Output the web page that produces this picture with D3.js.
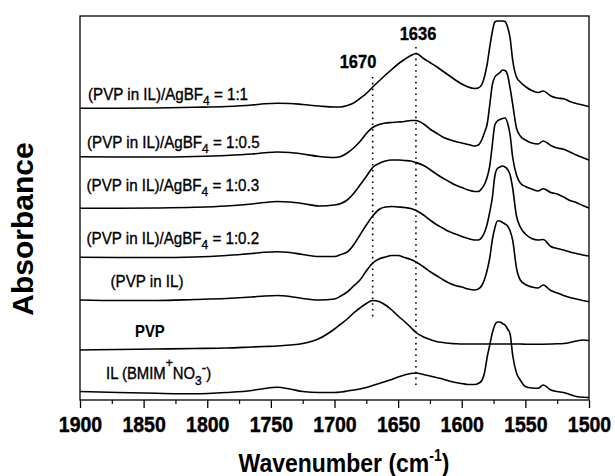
<!DOCTYPE html>
<html><head><meta charset="utf-8">
<script src="https://cdn.jsdelivr.net/npm/d3@7/dist/d3.min.js"></script>
<style>
body{margin:0;background:#fff}
svg{display:block}
text{font-family:Arial,"Liberation Sans",Helvetica,sans-serif;fill:#000}
</style>
</head><body>
<svg id="chart" width="615" height="476"></svg>
<script>
// ---- data (wavenumber in cm-1, absorbance in offset arbitrary units) ----
const wavenumbers = [1900,1870,1840,1810,1785,1765,1755,1745,1735,1725,1712,1700,1695,1690,1685,1680,1675,1670,1665,1660,1655,1650,1645,1640,1636,1630,1625,1620,1615,1610,1605,1600,1595,1590,1587,1584,1582,1580,1578,1576,1574,1572,1570,1568,1566,1564,1562,1560,1557,1554,1550,1545,1540,1536,1530,1525,1520,1515,1510,1505,1500];

const ratio1to1 = [291.7,291.7,292,292.7,293.5, 295,296.2,296.7,296.5,295.5, 294,293,293,294.5,297, 301.5,306.5,313,319,325, 330.5,336,340.5,344.5,346.5, 341.5,337.5,333.5,329,324.5, 320,316,313,311.5,312, 316,324,336,353,368, 378,379,379,379,378.5, 373,362,340,323,318, 313.5,309.5,307.5,309,304, 302,301.3,298.5,296.5,295, 293.5];

const ratio1to05 = [243.3,243,243,243.5,244.5, 246,247.2,248,247.5,246, 243.5,242.5,243.5,247,252, 258.5,266.5,272.5,275.5,277, 277.5,278,278.5,279.5,279.5, 276,271,267,263,260.5, 258.5,257,255.5,254,255, 261,268,276,295,315, 323,325.5,327.5,330,329.5, 325,312,296,272,264, 260,257,256,259,254.5, 252,250.7,248,245,242.5, 240];

const ratio1to03 = [191.7,191.7,192,192.7,194, 196,197.5,198.5,198,196.5, 194,195,196.5,200,206.5, 215,223.5,232.5,236.5,239, 240,240,239.5,239,237.5, 234.5,230.5,226,222,218.5, 215,212.5,210,208.5,208.5, 212,216,223,234,255, 275,279,280.5,281.5,282, 277,265,243,225,217, 213.5,211,209,211.3,207.5, 206,203,199.5,197.5,194.5, 192];

const ratio1to02 = [142.7,142.5,142.5,143,144.5, 146.5,147.7,148.3,147.5,145.5, 143.5,143.5,145.5,148,155, 165,175,184,190.5,193, 193.5,193,192.5,191.5,189.5, 185,180,175.5,172,168.5, 166,163.5,161.5,160,160, 163,168,176,188,202, 224,231.5,233,234,233, 230.5,225,212,184,173, 166,161.5,160,160.5,153.5, 151.5,150,148,146.5,145, 144];

const pvpInIL = [100,99.5,99.5,100.5,101.5, 103,104,104.5,103.5,101.5, 100,101,104,108,114, 120,129,137,141,143, 144.5,144.5,142.5,140.5,138, 133,128.5,124.5,120.5,117, 114.5,113,111,110,111, 115,121,130,142,160, 172,179,179,177.5,176, 174,169,160,132,120, 115.5,113,112,115,109.5, 107,104.5,102.5,101,99.5, 98.3];

const pvp = [50,50.5,51,51.5,52, 53,53.5,54,55,56.5, 61.5,71,76,81,87, 92,96.5,99.5,98.5,95, 90,84,78.5,72.5,67.5, 63,60.5,58.5,57.5,56.7, 56.3,56,56,56,56, 56,56,56,56,56, 56,56,56,56,56, 56,56,56,56,56, 55.8,55.7,55.7,55.8,56, 56.2,56.5,57.5,59,60, 59.5];

const ionicLiquid = [8.5,7.5,6.7,6.2,7.5, 9.5,11.5,12.7,11,8.5, 7.5,7.5,8,9,10, 11,12.5,14.5,16.5,18.5, 20.5,23,25,26.5,27, 25.5,24,22.5,21,19, 17.5,16.5,15.5,15.5,16.5, 20,28,43,55,67, 75,78,78,76.5,75, 71,66,45,27,20, 13.5,12,11.7,15,10, 8.5,7.5,5.5,3.5,2.7, 2.5];

const seriesValues = [ratio1to1, ratio1to05, ratio1to03, ratio1to02, pvpInIL, pvp, ionicLiquid];
const seriesNames = ["(PVP in IL)/AgBF4 = 1:1","(PVP in IL)/AgBF4 = 1:0.5","(PVP in IL)/AgBF4 = 1:0.3","(PVP in IL)/AgBF4 = 1:0.2","(PVP in IL)","PVP","IL (BMIM+NO3-)"];

const xTicks = [1900,1850,1800,1750,1700,1650,1600,1550,1500];
const xMinorTicks = [1875,1825,1775,1725,1675,1625,1575,1525];

const peakMarkers = [1670, 1636];
const peakMarkerTop = [323, 353];
const peakMarkerBottom = [80, 12];

// ---- layout ----
const m = {left:80, right:589, top:16, bottom:400};
const svg = d3.select("#chart");
const x = d3.scaleLinear().domain([1900,1500]).range([m.left, m.right]);
const y = d3.scaleLinear().domain([0,384]).range([m.bottom, m.top]);

svg.append("defs").append("clipPath").attr("id","clip")
  .append("rect").attr("x",m.left).attr("y",m.top).attr("width",m.right-m.left).attr("height",m.bottom-m.top);

// dotted peak markers
svg.append("g").selectAll("line").data(peakMarkers).join("line")
  .attr("x1",d=>x(d)).attr("x2",d=>x(d))
  .attr("y1",(d,i)=>y(peakMarkerTop[i])).attr("y2",(d,i)=>y(peakMarkerBottom[i]))
  .attr("stroke","#000").attr("stroke-width",1.6).attr("stroke-dasharray","1.6,4.2");

// spectra
const line = d3.line()
  .x((d,i)=>x(wavenumbers[i]))
  .y(d=>y(d))
  .curve(d3.curveMonotoneX);
svg.append("g").attr("clip-path","url(#clip)").selectAll("path").data(seriesValues).join("path")
  .attr("d",line).attr("fill","none").attr("stroke","#000").attr("stroke-width",1.6)
  .attr("stroke-linejoin","round");

// frame
svg.append("rect").attr("x",m.left).attr("y",m.top).attr("width",m.right-m.left).attr("height",m.bottom-m.top)
  .attr("fill","none").attr("stroke","#000").attr("stroke-width",1.3);

// axis
const ax = svg.append("g").attr("transform",`translate(0,${m.bottom})`)
  .call(d3.axisBottom(x).tickValues(xTicks).tickSize(8).tickFormat(d3.format("d")));
ax.attr("font-family",null).attr("font-size",null);
ax.select(".domain").remove();
ax.selectAll(".tick line").attr("stroke","#000").attr("stroke-width",1.3);
ax.selectAll(".tick text").attr("y",0).attr("dy",null)
  .attr("transform","translate(0,31.7) scale(1,1.17)")
  .style("font-size","19.5px").style("font-weight","bold").attr("fill","#000")
  .attr("stroke","#000").attr("stroke-width",0.4);
const axm = svg.append("g").attr("transform",`translate(0,${m.bottom})`)
  .call(d3.axisBottom(x).tickValues(xMinorTicks).tickSize(4).tickFormat(""));
axm.select(".domain").remove();
axm.selectAll(".tick line").attr("stroke","#000").attr("stroke-width",1.2);

// axis titles
const xt = svg.append("text").attr("transform","translate(344,471.5) scale(1,1.15)")
  .attr("text-anchor","middle").style("font-size","23px").style("font-weight","bold");
xt.append("tspan").text("Wavenumber (cm");
xt.append("tspan").text("-1").style("font-size","14px").attr("dy",-9);
xt.append("tspan").text(")").attr("dy",9);

svg.append("text").attr("transform","translate(33,229) rotate(-90)")
  .attr("text-anchor","middle").style("font-size","30px").style("font-weight","bold").text("Absorbance");

// peak labels
svg.append("g").selectAll("text").data(peakMarkers).join("text")
  .attr("transform",(d,i)=>`translate(${[358,418][i]},${[68.3,40][i]}) scale(1,1.15)`)
  .attr("text-anchor","middle").style("font-size","16.5px").style("font-weight","bold")
  .attr("stroke","#000").attr("stroke-width",0.3)
  .text(d=>d);

// series labels
const labelPos = [[88,100],[87,148],[86.5,190.5],[86.5,244],[110.5,287],[135,336.5],[106,378.5]];
function labelText(i, size){
  return svg.append("text")
    .attr("transform",`translate(${labelPos[i][0]},${labelPos[i][1]}) scale(0.93,1)`)
    .style("font-size",size+"px").attr("stroke","#000").attr("stroke-width",0.35);
}
function ratioLabel(i){
  const t = labelText(i,16.3);
  const parts = seriesNames[i].split("AgBF4");
  t.append("tspan").text(parts[0]+"AgBF");
  t.append("tspan").text("4").style("font-size","13px").attr("dy",5);
  t.append("tspan").text(parts[1]).attr("dy",-5);
}
[0,1,2,3].forEach(ratioLabel);
labelText(4,16.3).text(seriesNames[4]);
labelText(5,16).style("font-weight","bold").attr("stroke-width",0.1).text(seriesNames[5]);
const il = labelText(6,16);
il.append("tspan").text("IL (BMIM");
il.append("tspan").text("+").style("font-size","13px").attr("dy",-12);
il.append("tspan").text("NO").attr("dy",12);
il.append("tspan").text("3").style("font-size","13px").attr("dy",6.5);
il.append("tspan").text("-").style("font-size","14px").attr("dy",-12);
il.append("tspan").text(")").attr("dy",5.5);
</script>
</body></html>
